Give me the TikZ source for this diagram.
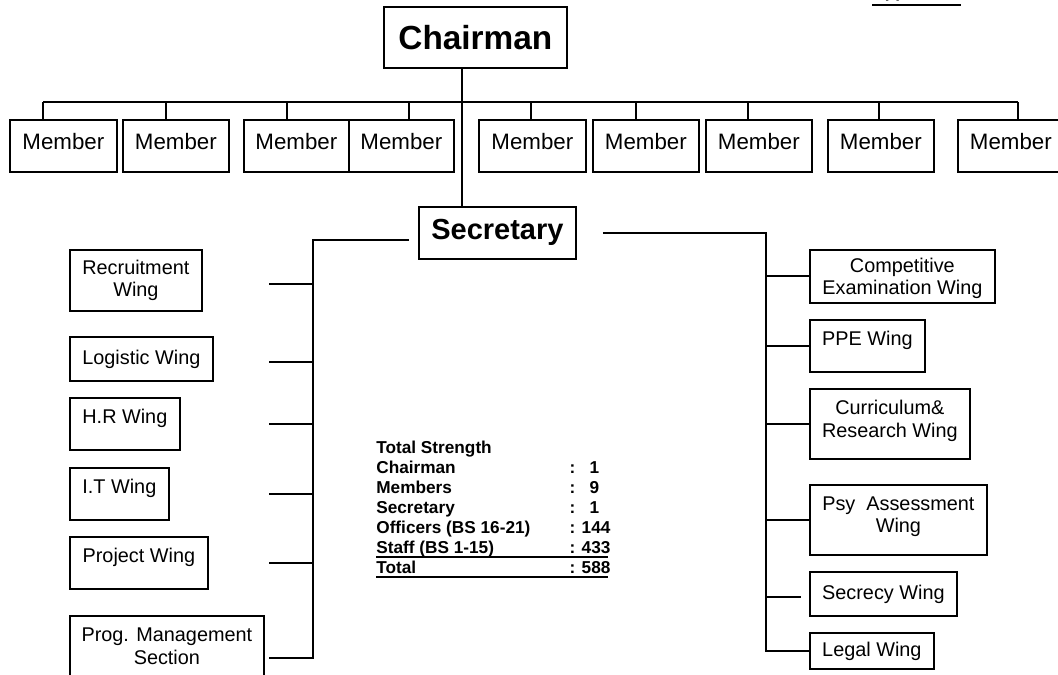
\documentclass[tikz,border=0pt]{standalone}
\usepackage{fontspec}
\setmainfont{Liberation Sans}
\newlength{\unitpx}
\setlength{\unitpx}{0.02cm}
\tikzstyle{head} = [rectangle, draw=black, line width=1pt, inner sep=0pt, anchor=north west, font=\bfseries\fontsize{19}{22}\selectfont]
\tikzstyle{member} = [rectangle, draw=black, line width=1pt, inner sep=0pt, anchor=north west, minimum height=52\unitpx, text depth=5.5pt, font=\fontsize{12.7}{15}\selectfont]
\tikzstyle{wing} = [rectangle, draw=black, line width=1pt, inner sep=0pt, anchor=north west, align=center, font=\fontsize{11.3}{13}\selectfont]
\tikzstyle{line} = [line width=1pt]
\newcommand{\sumrule}{\leavevmode\rlap{\rule[-2.8pt]{132pt}{1pt}}}
\begin{document}
\begin{tikzpicture}[x=0.02cm, y=-0.02cm]
\useasboundingbox (0,0) rectangle (1058,675);

\node (app) [anchor=base west, inner sep=0pt, font=\bfseries\fontsize{9.8}{11.4}\selectfont] at (872,-2) {Appendix I};

\node (chair) [head, minimum width=183\unitpx, minimum height=61\unitpx] at (383,6) {Chairman};

\node (m1) [member, minimum width=107\unitpx] at (9,119) {Member};
\node (m2) [member, minimum width=106\unitpx] at (122,119) {Member};
\node (m3) [member, minimum width=105\unitpx] at (243,119) {Member};
\node (m4) [member, minimum width=105\unitpx] at (348,119) {Member};
\node (m5) [member, minimum width=107\unitpx] at (478,119) {Member};
\node (m6) [member, minimum width=106\unitpx] at (592,119) {Member};
\node (m7) [member, minimum width=106\unitpx] at (705,119) {Member};
\node (m8) [member, minimum width=106\unitpx] at (827,119) {Member};
\node (m9) [member, minimum width=106\unitpx] at (957,119) {Member};

\node (sec) [head, font=\bfseries\fontsize{16.5}{20}\selectfont, minimum width=157\unitpx, minimum height=52\unitpx] at (418,206) {Secretary};

% left side
\node (rec) [wing, minimum width=132\unitpx, minimum height=61\unitpx] at (69,249) {Recruitment\\Wing};
\node (log) [wing, minimum width=143\unitpx, minimum height=44\unitpx] at (69,336) {Logistic Wing};
\node (hr) [wing, minimum width=110\unitpx, minimum height=52\unitpx, text depth=9pt] at (69,397) {H.R Wing};
\node (it) [wing, minimum width=99\unitpx, minimum height=52\unitpx, text depth=9pt] at (69,467) {I.T Wing};
\node (proj) [wing, minimum width=138\unitpx, minimum height=52\unitpx, text depth=9pt] at (69,536) {Project Wing};
\node (prog) [wing, minimum width=194\unitpx, minimum height=60\unitpx] at (69,615) {Prog. Management\\Section};

% right side
\node (comp) [wing, minimum width=185\unitpx, minimum height=53\unitpx, text depth=0pt] at (809,249) {Competitive\\Examination Wing};
\node (ppe) [wing, minimum width=115\unitpx, minimum height=52\unitpx, text depth=9pt] at (809,319) {PPE Wing};
\node (cur) [wing, minimum width=160\unitpx, minimum height=70\unitpx, text depth=6pt] at (809,388) {Curriculum\&\\Research Wing};
\node (psy) [wing, minimum width=177\unitpx, minimum height=70\unitpx, text depth=6pt] at (809,484) {Psy\ \ Assessment\\Wing};
\node (secr) [wing, minimum width=147\unitpx, minimum height=44\unitpx] at (809,571) {Secrecy Wing};
\node (legal) [wing, minimum width=124\unitpx, minimum height=36\unitpx] at (809,632) {Legal Wing};

\node (total) [anchor=base west, inner sep=0pt, font=\bfseries\fontsize{9.8}{11.4}\selectfont] at (376,453) {%
\begin{tabular}[t]{@{}p{110pt}@{}l@{}}
Total Strength & \\
Chairman & :\ \ \ 1\\
Members & :\ \ \ 9\\
Secretary & :\ \ \ 1\\
Officers (BS 16-21) & : 144\\
\sumrule Staff (BS 1-15) & : 433\\
\sumrule Total & : 588\\
\end{tabular}};

\coordinate (busL) at (43,102);
\coordinate (busR) at (1018,102);
\coordinate (lbus) at (313,658);

\draw [line width=1.1pt] ([yshift=-1.5pt]app.south west) -- ([yshift=-1.5pt]app.south east);

\draw [line] (busL) -- (busR);
\draw [line] (462,0 |- chair.south) -- (462,0 |- sec.north);
\draw [line] (m1.north -| busL) -- (busL);
\draw [line] (m2.north -| 166,0) -- (166,0 |- busL);
\draw [line] (m3.north -| 287,0) -- (287,0 |- busL);
\draw [line] (m4.north -| 409,0) -- (409,0 |- busL);
\draw [line] (m5.north -| 531,0) -- (531,0 |- busL);
\draw [line] (m6.north -| 636,0) -- (636,0 |- busL);
\draw [line] (m7.north -| 748,0) -- (748,0 |- busL);
\draw [line] (m8.north -| 879,0) -- (879,0 |- busL);
\draw [line] (m9.north -| busR) -- (busR);

\draw [line] ([xshift=-9\unitpx,yshift=-7\unitpx]sec.west) -| (lbus) -- ++(-44,0);
\draw [line] (269,284) -- (lbus |- 0,284);
\draw [line] (269,362) -- (lbus |- 0,362);
\draw [line] (hr.east -| 269,0) -- (hr.east -| lbus);
\draw [line] (it.east -| 269,0) -- (it.east -| lbus);
\draw [line] (proj.east -| 269,0) -- (proj.east -| lbus);

\draw [line] ([xshift=26\unitpx]sec.east) -| (766,0 |- legal.west) -- (legal.west);
\draw [line] (766,0 |- comp.west) -- (comp.west);
\draw [line] (766,0 |- ppe.west) -- (ppe.west);
\draw [line] (766,0 |- cur.west) -- (cur.west);
\draw [line] (766,0 |- psy.west) -- (psy.west);
\draw [line] (766,597) -- (801,597);

\end{tikzpicture}
\end{document}
